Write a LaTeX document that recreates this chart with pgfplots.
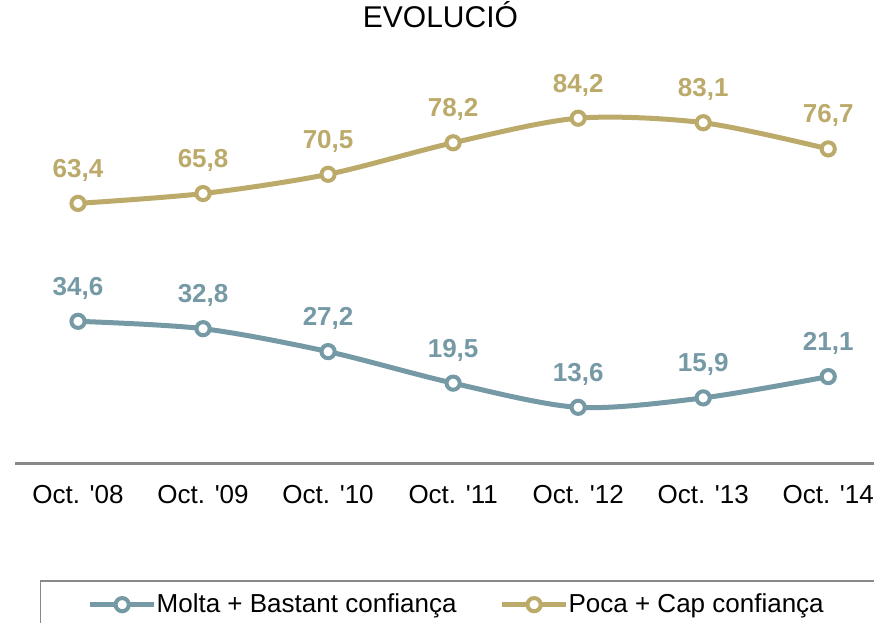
\documentclass[border=0pt]{standalone}
\usepackage{fontspec}
\setmainfont{Liberation Sans}
\usepackage{pgfplots}
\pgfplotsset{compat=1.18}
\definecolor{molta}{HTML}{7599A5}
\definecolor{poca}{HTML}{BCAA6B}
\definecolor{axgray}{HTML}{888888}

\begin{document}
\begin{tikzpicture}
\begin{axis}[
    name=ax,
    scale only axis,
    width=429.25pt, height=204.75pt,
    xmin=-0.5, xmax=6.366, ymin=0, ymax=100,
    axis x line*=bottom, axis y line=none,
    x axis line style={axgray, line width=1.5pt},
    xtick={0,...,6}, major tick length=0pt,
    xticklabels={Oct. \textquotesingle08, Oct. \textquotesingle09, Oct. \textquotesingle10, Oct. \textquotesingle11, Oct. \textquotesingle12, Oct. \textquotesingle13, Oct. \textquotesingle14},
    xticklabel style={font=\fontsize{13}{15}\selectfont, anchor=base, yshift=-20pt},
    title={EVOLUCIÓ},
    title style={font=\fontsize{15}{17}\selectfont, at={(0.495,1)}, anchor=base, yshift=7pt},
    clip=false,
    nodes near coords={\pgfmathprintnumber[fixed,fixed zerofill,precision=1,use comma,assume math mode=true]{\pgfplotspointmeta}},
    every node near coord/.append style={font=\fontsize{13}{15}\selectfont\bfseries, anchor=base, yshift=13pt},
    legend columns=2,
    legend style={at={(0.0285,-0.2857)}, anchor=north west, draw=axgray, line width=0.75pt,
        font=\fontsize{13}{15}\selectfont, inner xsep=23.5pt, inner ysep=4.5pt,
        /tikz/every odd column/.append style={column sep=-2pt},
        /tikz/every even column/.append style={column sep=19.5pt}},
    legend cell align=left,
    legend image code/.code={\draw[mark repeat=2, mark phase=2, #1] plot coordinates {(0pt,0pt) (16pt,0pt) (32pt,0pt)};},
]
  \addplot[molta, line width=2.5pt, smooth, mark=*, mark size=3.3pt,
           mark options={fill=white, draw=molta, line width=2pt},
           every node near coord/.append style={text=molta}]
    coordinates {(0,34.6) (1,32.8) (2,27.2) (3,19.5) (4,13.6) (5,15.9) (6,21.1)};
  \addplot[poca, line width=2.5pt, smooth, mark=*, mark size=3.3pt,
           mark options={fill=white, draw=poca, line width=2pt},
           every node near coord/.append style={text=poca}]
    coordinates {(0,63.4) (1,65.8) (2,70.5) (3,78.2) (4,84.2) (5,83.1) (6,76.7)};
  \legend{Molta + Bastant confiança, Poca + Cap confiança}
\end{axis}
\pgfresetboundingbox
\useasboundingbox ([xshift=-7.75pt,yshift=-79.5pt]ax.south west) rectangle ([yshift=26.75pt]ax.north east);
\end{tikzpicture}
\end{document}
